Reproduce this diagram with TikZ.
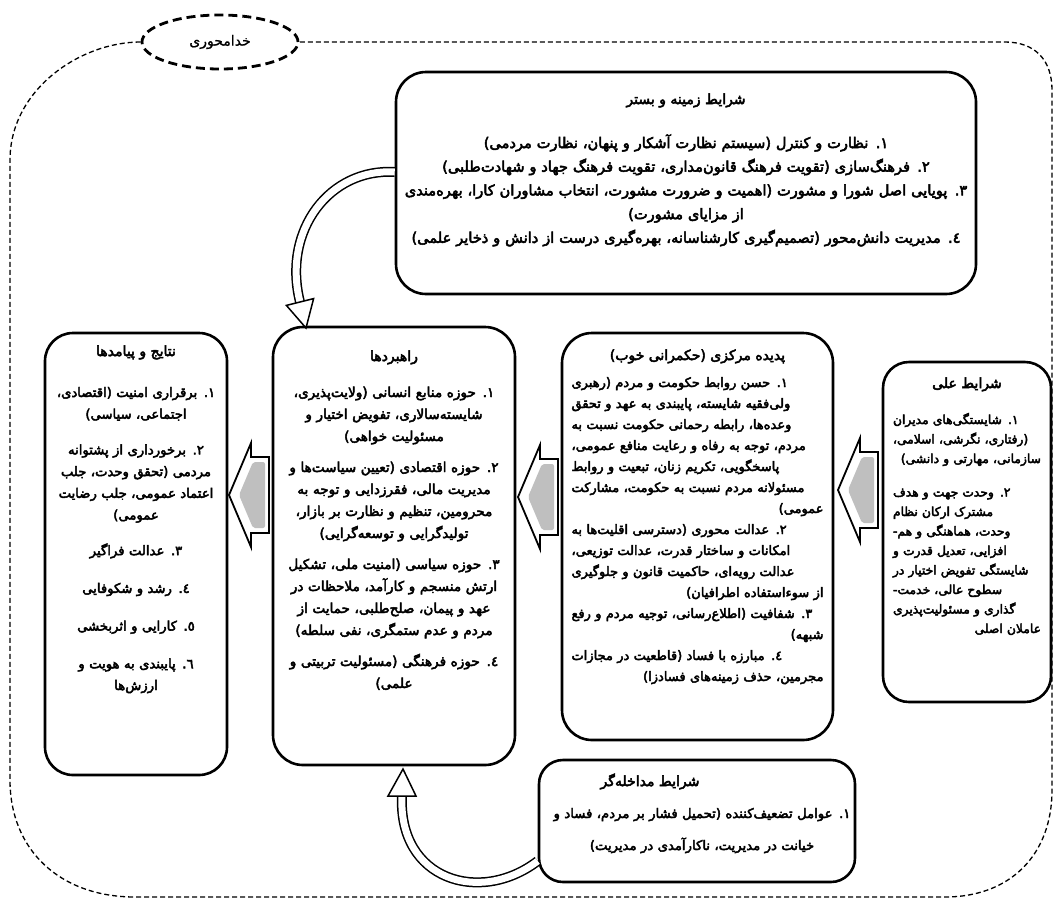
\documentclass[tikz,border=0pt]{standalone}
\usepackage{fontspec}
\usetikzlibrary{shapes.geometric}
\TeXXeTstate=1
\newfontfamily\fab[Script=Arabic,FakeBold=3.5]{DejaVu Sans}
\newfontfamily\far[Script=Arabic,FakeBold=1]{DejaVu Sans}
\newcommand\RL[1]{\beginR #1\endR}
\newcommand\JL[2]{\makebox[#1][s]{\beginR #2\endR}}
\newcommand\barrow[2]{%
  \draw[garrow] (#1,#2) -- ++(22,-52) -- ++(0,14) -- ++(18,0) -- ++(0,76) -- ++(-18,0) -- ++(0,14) -- cycle;
  \fill[gray!50, rounded corners=2pt] (#1+10,#2) -- ++(14,-33) -- ++(12,0) -- ++(0,66) -- ++(-12,0) -- cycle;
}
\tikzset{
  box/.style={draw, line width=2.6pt, rounded corners=30pt, fill=white, inner sep=0pt},
  ttl/.style={font=\fab\fontsize{14}{16}\selectfont, anchor=base, inner sep=0pt},
  txt/.style={anchor=base, inner sep=0pt},
  frame/.style={line width=1.3pt, dash pattern=on 5pt off 3pt},
  garrow/.style={draw, line width=1.8pt, fill=white, line join=miter},
  hollow/.style={line width=1.5pt, double=white, double distance=7pt},
  hhead/.style={draw, line width=1.5pt, fill=white, line join=miter},
}
\begin{document}
\begin{tikzpicture}[x=1pt,y=-1pt]
\useasboundingbox (0,0) rectangle (1060,903);
\fill[white] (0,0) rectangle (1060,903);

% god-centred ellipse and dashed frame
\node[ellipse, draw, line width=2.8pt, dash pattern=on 9pt off 5pt, fill=white,
      minimum width=156pt, minimum height=54pt, inner sep=0pt,
      font=\far\fontsize{14}{16}\selectfont] (ell) at (220,42) {\RL{خدامحوری}};
\draw[frame] (ell.west) .. controls (80,42) and (10,90) .. (10,160) -- (10,780)
  .. controls (10,850) and (60,897) .. (135,897) -- (945,897)
  .. controls (1010,897) and (1052,855) .. (1052,790) -- (1052,90)
  .. controls (1052,60) and (1035,42) .. (1005,42) -- (ell.east);

% context box
\node[box, minimum width=580pt, minimum height=222pt] (ctx) at (686,183) {};
\node[ttl] (ctxT) at (686,104) {\RL{شرایط زمینه و بستر}};
\node[txt, text width=574pt, align=center, font=\fab\fontsize{14.6}{23.7}\selectfont] (ctxB) at (686,148) {%
\RL{١. نظارت و کنترل (سیستم نظارت آشکار و پنهان، نظارت مردمی)}\\
\RL{٢. فرهنگ^^^^200cسازی (تقویت فرهنگ قانون^^^^200cمداری، تقویت فرهنگ جهاد و شهادت^^^^200cطلبی)}\\
\RL{٣. پویایی اصل شورا و مشورت (اهمیت و ضرورت مشورت، انتخاب مشاوران کارا، بهره^^^^200cمندی}\\
\RL{از مزایای مشورت)}\\
\RL{٤. مدیریت دانش^^^^200cمحور (تصمیم^^^^200cگیری کارشناسانه، بهره^^^^200cگیری درست از دانش و ذخایر علمی)}};

% causal conditions
\node[box, minimum width=168pt, minimum height=340pt, rounded corners=26pt] (cause) at (967,532) {};
\node[ttl] (causeT) at (967,388) {\RL{شرایط علی}};
\node[txt, text width=148pt, align=right, font=\fab\fontsize{12.3}{19.5}\selectfont] (causeB) at (967,424) {%
\JL{148pt}{١. شایستگی^^^^200cهای مدیران}\\
\JL{148pt}{(رفتاری، نگرشی، اسلامی،}\\
\RL{سازمانی، مهارتی و دانشی)}\\[14pt]
\JL{148pt}{٢. وحدت جهت و هدف}\\
\JL{148pt}{مشترک ارکان نظام}\\
\JL{148pt}{وحدت، هماهنگی و هم-}\\
\JL{148pt}{افزایی، تعدیل قدرت و}\\
\JL{148pt}{شایستگی تفویض اختیار در}\\
\JL{148pt}{سطوح عالی، خدمت-}\\
\JL{148pt}{گذاری و مسئولیت^^^^200cپذیری}\\
\RL{عاملان اصلی}};

% core phenomenon
\node[box, minimum width=271pt, minimum height=407pt] (core) at (697.5,536.5) {};
\node[ttl] (coreT) at (697.5,360) {\RL{پدیده مرکزی (حکمرانی خوب)}};
\node[txt, text width=252pt, align=right, font=\fab\fontsize{13}{21}\selectfont] (coreB) at (697.5,387) {%
\JL{252pt}{١. حسن روابط حکومت و مردم (رهبری}\\
\JL{252pt}{ولی^^^^200cفقیه شایسته، پایبندی به عهد و تحقق}\\
\JL{252pt}{وعده^^^^200cها، رابطه رحمانی حکومت نسبت به}\\
\JL{252pt}{مردم، توجه به رفاه و رعایت منافع عمومی،}\\
\JL{252pt}{پاسخگویی، تکریم زنان، تبعیت و روابط}\\
\JL{252pt}{مسئولانه مردم نسبت به حکومت، مشارکت}\\
\RL{عمومی)}\\
\JL{252pt}{٢. عدالت محوری (دسترسی اقلیت^^^^200cها به}\\
\JL{252pt}{امکانات و ساختار قدرت، عدالت توزیعی،}\\
\JL{252pt}{عدالت رویه^^^^200cای، حاکمیت قانون و جلوگیری}\\
\RL{از سوءاستفاده اطرافیان)}\\
\JL{252pt}{٣. شفافیت (اطلاع^^^^200cرسانی، توجیه مردم و رفع}\\
\RL{شبهه)}\\
\JL{252pt}{٤. مبارزه با فساد (قاطعیت در مجازات}\\
\RL{مجرمین، حذف زمینه^^^^200cهای فسادزا)}};

% strategies
\node[box, minimum width=242pt, minimum height=438pt] (strat) at (394,546) {};
\node[ttl] (stratT) at (394,361) {\RL{راهبردها}};
\node[txt, text width=236pt, align=center, font=\fab\fontsize{13.6}{22}\selectfont] (stratB) at (394,397) {%
\RL{١. حوزه منابع انسانی (ولایت^^^^200cپذیری،}\\
\RL{شایسته^^^^200cسالاری، تفویض اختیار و}\\
\RL{مسئولیت خواهی)}\\[9pt]
\RL{٢. حوزه اقتصادی (تعیین سیاست^^^^200cها و}\\
\RL{مدیریت مالی، فقرزدایی و توجه به}\\
\RL{محرومین، تنظیم و نظارت بر بازار،}\\
\RL{تولیدگرایی و توسعه^^^^200cگرایی)}\\[9pt]
\RL{٣. حوزه سیاسی (امنیت ملی، تشکیل}\\
\RL{ارتش منسجم و کارآمد، ملاحظات در}\\
\RL{عهد و پیمان، صلح^^^^200cطلبی، حمایت از}\\
\RL{مردم و عدم ستمگری، نفی سلطه)}\\[9pt]
\RL{٤. حوزه فرهنگی (مسئولیت تربیتی و}\\
\RL{علمی)}};

% outcomes
\node[box, minimum width=182pt, minimum height=442pt, rounded corners=28pt] (outc) at (136,554) {};
\node[ttl] (outcT) at (136,356) {\RL{نتایج و پیامدها}};
\node[txt, text width=176pt, align=center, font=\fab\fontsize{13.2}{21.7}\selectfont] (outcB) at (136,397) {%
\RL{١. برقراری امنیت (اقتصادی،}\\
\RL{اجتماعی، سیاسی)}\\[14pt]
\RL{٢. برخورداری از پشتوانه}\\
\RL{مردمی (تحقق وحدت، جلب}\\
\RL{اعتماد عمومی، جلب رضایت}\\
\RL{عمومی)}\\[14pt]
\RL{٣. عدالت فراگیر}\\[16pt]
\RL{٤. رشد و شکوفایی}\\[16pt]
\RL{٥. کارایی و اثربخشی}\\[16pt]
\RL{٦. پایبندی به هویت و}\\
\RL{ارزش^^^^200cها}};

% intervening conditions
\node[box, minimum width=316pt, minimum height=122pt, rounded corners=24pt] (interv) at (697,821) {};
\node[ttl] (intervT) at (650,786) {\RL{شرایط مداخله^^^^200cگر}};
\node[txt, text width=310pt, align=center, font=\fab\fontsize{13.2}{32}\selectfont] (intervB) at (702,818) {%
\RL{١. عوامل تضعیف^^^^200cکننده (تحمیل فشار بر مردم، فساد و}\\
\RL{خیانت در مدیریت، ناکارآمدی در مدیریت)}};

% block arrows (pointing left)
\barrow{838}{490}
\barrow{518}{497}
\barrow{229}{495}

% hollow curved arrows
\coordinate (a1) at ([yshift=11pt]ctx.west);
\coordinate (a1e) at (300,302);
\draw[hollow] (a1) .. controls (330,168) and (282,230) .. (a1e);
\filldraw[hhead] (306,328) -- (286.4,305.4) -- (313.6,298.6) -- cycle;

\coordinate (b1) at ([yshift=-40pt]interv.west);
\coordinate (b1e) at (402,796);
\draw[hollow] (b1) .. controls (480,905) and (398,880) .. (b1e);
\filldraw[hhead] (403,769) -- (388,796) -- (416,796) -- cycle;
\end{tikzpicture}
\end{document}
